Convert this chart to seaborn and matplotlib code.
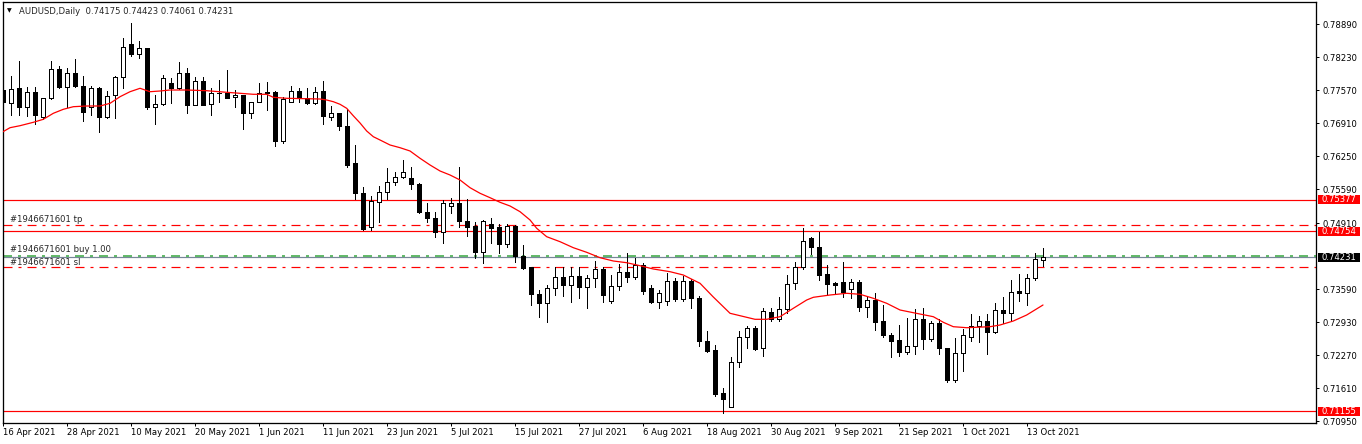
import numpy as np
import pandas as pd
import matplotlib
matplotlib.use("Agg")
import matplotlib.pyplot as plt
import matplotlib.transforms as mtransforms
from matplotlib.patches import Rectangle
import seaborn as sns

# ---------------- data ----------------
symbol = "AUDUSD,Daily"
header_ohlc = "0.74175 0.74423 0.74061 0.74231"
dates = pd.bdate_range("2021-04-16", "2021-10-15")

opens = [0.77576, 0.77309, 0.77609, 0.77243, 0.77529, 0.77043, 0.77409, 0.77989, 0.77643, 0.77909,
         0.77656, 0.77229, 0.77609, 0.77043, 0.77476, 0.77829, 0.78496, 0.78289, 0.78409, 0.77243,
         0.77289, 0.77709, 0.77609, 0.77923, 0.77276, 0.77756, 0.77289, 0.77509, 0.77523, 0.77429,
         0.77476, 0.77123, 0.77343, 0.77529, 0.77543, 0.76556, 0.77343, 0.77556, 0.77423, 0.77309,
         0.77556, 0.77043, 0.77109, 0.76862, 0.76110, 0.75522, 0.74842, 0.75342, 0.75542, 0.75742,
         0.75830, 0.75810, 0.75696, 0.75130, 0.75010, 0.74730, 0.75256, 0.75310, 0.74960, 0.74856,
         0.74342, 0.74896, 0.74830, 0.74490, 0.74850, 0.74256, 0.74030, 0.73490, 0.73320, 0.73610,
         0.73830, 0.73676, 0.73862, 0.73642, 0.73810, 0.73996, 0.73356, 0.73656, 0.73942, 0.73830,
         0.74076, 0.73610, 0.73342, 0.73362, 0.73762, 0.73390, 0.73756, 0.73410, 0.72562, 0.72376,
         0.71510, 0.71242, 0.72140, 0.72630, 0.72810, 0.72410, 0.73142, 0.72996, 0.73190, 0.73710,
         0.74030, 0.74610, 0.74430, 0.73890, 0.73710, 0.73742, 0.73590, 0.73742, 0.73242, 0.73376,
         0.72956, 0.72676, 0.72576, 0.72342, 0.72462, 0.72996, 0.72590, 0.72910, 0.72422, 0.71776,
         0.72310, 0.72630, 0.72860, 0.72956, 0.72740, 0.73176, 0.73110, 0.73556, 0.73522, 0.73810,
         0.74175]
highs = [0.77610, 0.77856, 0.78156, 0.77629, 0.77629, 0.77423, 0.78156, 0.78056, 0.78009, 0.78189,
         0.77856, 0.77656, 0.77629, 0.77563, 0.77856, 0.78609, 0.78909, 0.78563, 0.78420, 0.77476,
         0.77876, 0.77809, 0.78129, 0.78023, 0.77829, 0.77829, 0.77623, 0.77776, 0.77969, 0.77576,
         0.77480, 0.77340, 0.77709, 0.77743, 0.77550, 0.77429, 0.77663, 0.77623, 0.77623, 0.77629,
         0.77756, 0.77256, 0.77110, 0.77206, 0.76476, 0.75630, 0.75460, 0.75660, 0.76010, 0.75942,
         0.76176, 0.76030, 0.75710, 0.75322, 0.75130, 0.75376, 0.75410, 0.76030, 0.75390, 0.74940,
         0.74976, 0.75010, 0.74896, 0.74896, 0.74876, 0.74476, 0.74040, 0.73576, 0.73676, 0.74030,
         0.74030, 0.74030, 0.74042, 0.73876, 0.74162, 0.74030, 0.73876, 0.74096, 0.74310, 0.74210,
         0.74110, 0.73676, 0.73576, 0.73922, 0.73810, 0.73856, 0.73790, 0.73456, 0.72756, 0.72476,
         0.71610, 0.72230, 0.72760, 0.72856, 0.72856, 0.73210, 0.73210, 0.73440, 0.73876, 0.74142,
         0.74810, 0.74630, 0.74730, 0.74076, 0.73736, 0.74130, 0.73796, 0.73776, 0.73430, 0.73522,
         0.73276, 0.72722, 0.72876, 0.73022, 0.73190, 0.73210, 0.72962, 0.72996, 0.72422, 0.72620,
         0.72796, 0.73090, 0.73056, 0.73096, 0.73310, 0.73430, 0.73776, 0.73890, 0.73890, 0.74322,
         0.74423]
lows = [0.77310, 0.77076, 0.77076, 0.77063, 0.76896, 0.76996, 0.77396, 0.77609, 0.77229, 0.77643,
        0.76963, 0.77076, 0.76743, 0.77009, 0.77009, 0.77609, 0.78256, 0.78209, 0.77189, 0.76889,
        0.77280, 0.77323, 0.77589, 0.77109, 0.77270, 0.77270, 0.77076, 0.77343, 0.77420, 0.77229,
        0.76789, 0.77009, 0.77340, 0.77176, 0.76463, 0.76523, 0.77340, 0.77343, 0.77289, 0.77296,
        0.76896, 0.76976, 0.76776, 0.76036, 0.75396, 0.74776, 0.74776, 0.74942, 0.75390, 0.75676,
        0.75810, 0.75590, 0.75110, 0.74942, 0.74640, 0.74510, 0.75110, 0.74840, 0.74656, 0.74210,
        0.74122, 0.74522, 0.74310, 0.74442, 0.74142, 0.73990, 0.73276, 0.73042, 0.72942, 0.73476,
        0.73460, 0.73342, 0.73416, 0.73210, 0.73630, 0.73342, 0.73320, 0.73576, 0.73740, 0.73796,
        0.73496, 0.73310, 0.73210, 0.73276, 0.73362, 0.73356, 0.73222, 0.72462, 0.72330, 0.71462,
        0.71110, 0.71240, 0.72040, 0.72422, 0.72376, 0.72262, 0.72962, 0.72962, 0.73122, 0.73596,
        0.73990, 0.74296, 0.73776, 0.73476, 0.73490, 0.73442, 0.73410, 0.73156, 0.73042, 0.72776,
        0.72642, 0.72242, 0.72262, 0.72290, 0.72290, 0.72396, 0.72562, 0.72296, 0.71742, 0.71742,
        0.71962, 0.72562, 0.72530, 0.72296, 0.72720, 0.72910, 0.72962, 0.73362, 0.73276, 0.73776,
        0.74061]
closes = [0.77343, 0.77589, 0.77243, 0.77529, 0.77076, 0.77409, 0.77989, 0.77643, 0.77909, 0.77656,
          0.77143, 0.77609, 0.77043, 0.77463, 0.77829, 0.78429, 0.78296, 0.78409, 0.77229, 0.77289,
          0.77809, 0.77623, 0.77909, 0.77276, 0.77756, 0.77276, 0.77509, 0.77515, 0.77423, 0.77469,
          0.77123, 0.77336, 0.77523, 0.77525, 0.76563, 0.77396, 0.77556, 0.77409, 0.77309, 0.77543,
          0.77063, 0.77109, 0.76863, 0.76076, 0.75510, 0.74796, 0.75356, 0.75542, 0.75742, 0.75830,
          0.75942, 0.75690, 0.75130, 0.75010, 0.74730, 0.75310, 0.75310, 0.74960, 0.74840, 0.74342,
          0.74956, 0.74822, 0.74490, 0.74850, 0.74256, 0.74010, 0.73490, 0.73320, 0.73610, 0.73830,
          0.73676, 0.73856, 0.73642, 0.73810, 0.73996, 0.73476, 0.73656, 0.73930, 0.73830, 0.74076,
          0.73562, 0.73342, 0.73522, 0.73762, 0.73390, 0.73756, 0.73410, 0.72562, 0.72360, 0.71496,
          0.71396, 0.72140, 0.72630, 0.72810, 0.72396, 0.73162, 0.72996, 0.73190, 0.73690, 0.74030,
          0.74556, 0.74430, 0.73876, 0.73690, 0.73676, 0.73542, 0.73730, 0.73242, 0.73376, 0.72942,
          0.72676, 0.72562, 0.72342, 0.72456, 0.72996, 0.72596, 0.72910, 0.72422, 0.71776, 0.72310,
          0.72676, 0.72860, 0.72956, 0.72740, 0.73176, 0.73110, 0.73530, 0.73510, 0.73810, 0.74196,
          0.74231]

# moving average readings (bar position, value)
ma_pos = [0, 0.875, 2.125, 3.79, 5.04, 6.29, 7.54, 8.79, 10.46, 12.13, 13.38, 14.63, 15.88,
          17.13, 18.38, 19.63, 20.88, 22.96, 25.46, 27.96, 29.63, 31.29, 32.96, 33.79, 35.46,
          39.63, 40.46, 41.29, 42.13, 42.96, 43.79, 44.63, 45.46, 46.29, 47.13, 48.38, 49.63,
          50.88, 52.13, 53.38, 54.63, 55.88, 57.13, 58.38, 59.63, 60.88, 62.13, 63.38, 64.63,
          65.88, 66.71, 67.96, 69.63, 71.29, 72.96, 74.63, 76.29, 77.96, 79.63, 81.29, 83.38,
          85.04, 86.29, 87.13, 88.75, 90.88, 92.96, 94.0, 95.46, 97.13, 98.79, 100.46, 101.29,
          103.38, 105.46, 107.13, 108.79, 110.46, 112.13, 113.79, 116.29, 117.54, 118.79,
          120.46, 123.38, 124.63, 126.29, 127.96, 130]
ma_val = [0.76742, 0.76822, 0.76862, 0.76930, 0.76990, 0.77110, 0.77190, 0.77242, 0.77256,
          0.77256, 0.77310, 0.77442, 0.77542, 0.77610, 0.77542, 0.77556, 0.77576, 0.77576,
          0.77562, 0.77530, 0.77510, 0.77490, 0.77490, 0.77430, 0.77410, 0.77396, 0.77376,
          0.77342, 0.77290, 0.77210, 0.77060, 0.76916, 0.76756, 0.76642, 0.76576, 0.76476,
          0.76422, 0.76356, 0.76210, 0.76076, 0.75956, 0.75876, 0.75776, 0.75622, 0.75510,
          0.75422, 0.75330, 0.75256, 0.75142, 0.74976, 0.74810, 0.74642, 0.74542, 0.74422,
          0.74330, 0.74222, 0.74156, 0.74122, 0.74062, 0.73996, 0.73942, 0.73876, 0.73776,
          0.73710, 0.73442, 0.73110, 0.73030, 0.72990, 0.72990, 0.73042, 0.73210, 0.73376,
          0.73430, 0.73476, 0.73510, 0.73490, 0.73410, 0.73310, 0.73176, 0.73122, 0.73042,
          0.72930, 0.72842, 0.72822, 0.72842, 0.72876, 0.72956, 0.73076, 0.73276]

tick_prices = [0.78890, 0.78230, 0.77570, 0.76910, 0.76250, 0.75590, 0.74910,
               0.73590, 0.72930, 0.72270, 0.71610, 0.70950]
level_lines = [0.75377, 0.74754, 0.71155]
order_id = "#1946671601"
tp_price = 0.74880
sl_price = 0.74030
entry_price = 0.74250
bid_price = 0.74231
date_tick_idx = list(range(0, 131, 8))

# ---------------- figure ----------------
W, H = 1362, 444
sns.set_theme(style="white")
plt.rcParams["font.family"] = ["DejaVu Sans"]
plt.rcParams["lines.scale_dashes"] = False
FS = 6.1
PX = 0.72  # one pixel in points at dpi 100

fig = plt.figure(figsize=(W / 100, H / 100), dpi=100)
fig.patch.set_facecolor("white")
ax_l, ax_r, ax_t, ax_b = 2.5, 1316.0, 2.5, 423.0
ax = fig.add_axes([ax_l / W, (H - ax_b) / H, (ax_r - ax_l) / W, (ax_b - ax_t) / H])
ax.set_facecolor("white")

ymin, ymax = 0.70916, 0.79326
ax.set_ylim(ymin, ymax)
ax.set_xlim(-0.0625, 164.125)

x = np.arange(len(opens))
o = np.array(opens); h = np.array(highs); l = np.array(lows); c = np.array(closes)
up = c >= o

# wicks
ax.vlines(x, l, h, color="black", lw=PX, zorder=3, antialiased=False)
# bodies
body_lo = np.minimum(o, c)
body_h = np.abs(c - o)
ax.bar(x[up], body_h[up], bottom=body_lo[up], width=0.62, facecolor="white",
       edgecolor="black", linewidth=PX, zorder=4, antialiased=False)
ax.bar(x[~up], body_h[~up], bottom=body_lo[~up], width=0.62, facecolor="black",
       edgecolor="black", linewidth=PX, zorder=4, antialiased=False)

# moving average
sns.lineplot(x=ma_pos, y=ma_val, ax=ax, color="#ff0000", lw=PX * 1.25, sort=False,
             estimator=None, zorder=5)

# horizontal levels
for lv in level_lines:
    ax.axhline(lv, color="#ff0000", lw=PX * 1.2, zorder=2)
dashdot = (0, (9 * PX, 6 * PX, 3 * PX, 6 * PX))
ax.axhline(tp_price, color="#ff0000", lw=PX * 1.2, ls=dashdot, zorder=2)
ax.axhline(sl_price, color="#ff0000", lw=PX * 1.2, ls=dashdot, zorder=2)
ax.axhline(bid_price, color="#778899", lw=PX * 1.2, zorder=2)
ax.axhline(entry_price, color="#3faa48", lw=PX * 1.6, ls=dashdot, zorder=2)

# order labels
def fig_text(px_x, px_y, s, **kw):
    fig.text(px_x / W, 1 - px_y / H, s, fontsize=FS, va="center", ha="left", **kw)

fig_text(9.5, 219.5, f"{order_id} tp")
fig_text(9.5, 249.5, f"{order_id} buy 1.00")
fig_text(9.5, 262.5, f"{order_id} sl")

# header
fig.text(7 / W, 1 - 10.5 / H, "\u25BC", fontsize=4.4, va="center", ha="left", color="black")
fig_text(19, 11, f"{symbol}  {header_ohlc}")

# axes styling
for sp in ax.spines.values():
    sp.set_visible(True)
    sp.set_color("black")
    sp.set_linewidth(PX * 1.3)

ax.yaxis.tick_right()
ax.set_yticks(tick_prices)
ax.set_yticklabels([f"{p:.5f}" for p in tick_prices])
ax.tick_params(axis="y", right=True, left=False, length=2.2, width=PX, pad=2.4,
               labelsize=FS, colors="black")

ax.set_xticks(date_tick_idx)
ax.set_xticklabels([f"{dates[i].day} {dates[i]:%b %Y}" for i in date_tick_idx])
for lab in ax.get_xticklabels():
    lab.set_ha("left")
ax.tick_params(axis="x", bottom=True, length=2.2, width=PX, pad=1.5, labelsize=FS,
               colors="black")
ax.set_xlabel("")
ax.set_ylabel("")
ax.grid(False)

# price tags on right scale
trans = mtransforms.blended_transform_factory(ax.transAxes, ax.transData)
ax_w_px = ax_r - ax_l
data_per_px = (ymax - ymin) / (ax_b - ax_t)

def price_tag(price, fc):
    hgt = 9 * data_per_px
    x0 = 1 + 2.3 / ax_w_px
    w = 41.5 / ax_w_px
    ax.add_patch(Rectangle((x0, price - hgt / 2), w, hgt, transform=trans, facecolor=fc,
                           edgecolor="none", clip_on=False, zorder=10))
    ax.text(x0 + w / 2, price, f"{price:.5f}", transform=trans, color="white",
            ha="center", va="center", fontsize=FS, zorder=11, clip_on=False)

for lv in level_lines:
    price_tag(lv, "#ff0000")
price_tag(bid_price, "black")

fig.savefig("out.png", dpi=100, facecolor="white")
